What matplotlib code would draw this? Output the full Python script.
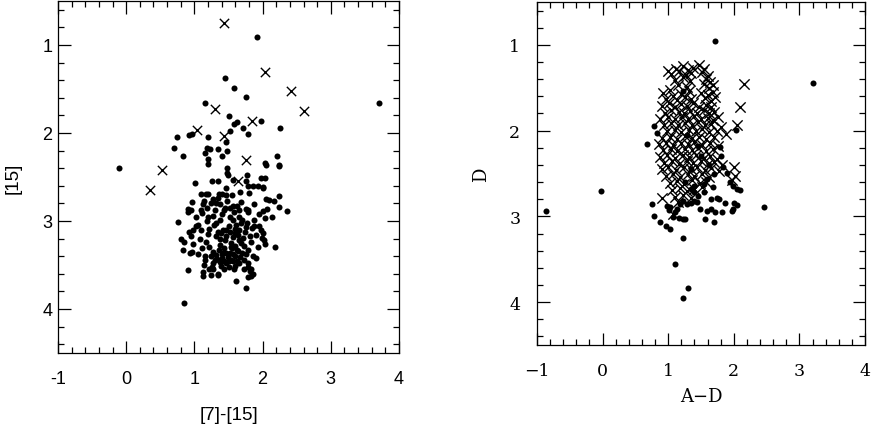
import matplotlib
matplotlib.use("Agg")
import matplotlib.pyplot as plt
from matplotlib.ticker import MultipleLocator

# ---------------- Left panel data: [7]-[15] vs [15] ----------------
left_dot_x = [1.92, 3.71, -0.11, 0.85, 1.45, 1.58, 1.75, 1.16, 1.51, 1.63, 1.58, 1.97, 1.71, 1.52,
              1.79, 2.25, 0.74, 0.92, 0.97, 1.20, 1.47, 0.70, 1.18, 1.23, 1.34, 1.48, 1.15, 1.20,
              1.20, 1.41, 0.83, 2.21, 2.04, 2.05, 2.24, 2.24, 1.48, 1.48, 1.49, 1.77, 1.01, 1.26,
              1.34, 1.56, 1.76, 1.79, 1.86, 1.93, 2.00, 1.97, 2.03, 2.01, 1.67, 1.80, 1.10, 1.17,
              1.20, 1.36, 1.40, 1.47, 1.55, 2.24, 2.05, 2.09, 2.17, 0.97, 1.14, 1.13, 1.24, 1.27,
              1.32, 1.37, 1.45, 1.52, 1.56, 1.62, 1.76, 1.78, 1.79, 1.87, 2.01, 2.07, 2.24, 2.36,
              0.91, 0.95, 0.90, 1.09, 1.11, 1.02, 1.20, 1.27, 1.38, 1.52, 1.56, 1.66, 1.70, 1.77,
              0.76, 1.88, 2.03, 2.14, 0.98, 1.03, 0.92, 0.95, 1.10, 1.22, 1.20, 1.35, 1.42, 1.47,
              1.52, 1.59, 1.66, 1.76, 1.85, 1.88, 1.95, 1.97, 2.01, 0.81, 0.85, 1.08, 1.17, 1.32,
              1.37, 1.47, 1.56, 1.64, 1.71, 1.82, 1.91, 1.99, 2.02, 0.84, 0.96, 0.98, 1.11, 1.22,
              1.27, 1.37, 1.43, 1.53, 1.60, 1.73, 1.79, 1.93, 2.04, 2.18, 0.94, 1.15, 1.32, 1.40,
              1.49, 1.59, 1.67, 1.76, 1.86, 1.90, 1.16, 1.30, 1.37, 1.47, 1.57, 1.66, 1.79, 1.22,
              1.27, 1.39, 1.50, 1.60, 1.79, 1.83, 0.91, 1.13, 1.25, 1.35, 1.44, 1.58, 1.81, 1.86,
              1.13, 1.35, 1.79, 1.83, 1.61, 1.75, 1.42, 1.52, 1.62, 1.45, 1.29, 1.61, 1.40, 1.30,
              1.18, 1.68, 1.46, 1.65, 1.54, 1.44, 1.70, 1.28, 1.05, 1.66,
              1.33, 1.41, 1.50, 1.57, 1.63, 1.72, 1.24, 1.36, 1.46, 1.55, 1.69, 1.83, 1.14, 1.26,
              1.39, 1.51, 1.60, 1.74, 1.34, 1.48, 1.58, 1.68, 1.94, 1.06, 1.19, 1.31, 1.43, 1.53,
              1.64, 1.73]
left_dot_y = [0.91, 1.66, 2.40, 3.93, 1.37, 1.49, 1.59, 1.66, 1.81, 1.88, 1.90, 1.86, 1.94, 1.98,
              2.01, 1.94, 2.04, 2.02, 2.01, 2.04, 2.10, 2.17, 2.17, 2.18, 2.18, 2.20, 2.23, 2.29,
              2.35, 2.26, 2.26, 2.26, 2.34, 2.36, 2.36, 2.38, 2.40, 2.46, 2.48, 2.48, 2.57, 2.55,
              2.54, 2.53, 2.55, 2.60, 2.60, 2.60, 2.61, 2.51, 2.51, 2.63, 2.67, 2.68, 2.69, 2.69,
              2.69, 2.69, 2.69, 2.71, 2.71, 2.72, 2.75, 2.76, 2.77, 2.78, 2.77, 2.81, 2.79, 2.75,
              2.79, 2.81, 2.85, 2.85, 2.83, 2.83, 2.86, 2.88, 2.90, 2.81, 2.89, 2.86, 2.84, 2.89,
              2.86, 2.87, 2.90, 2.88, 2.91, 2.95, 2.96, 2.94, 2.99, 2.96, 2.99, 2.95, 2.99, 3.02,
              3.01, 2.99, 2.97, 2.96, 3.10, 3.06, 3.13, 3.17, 3.10, 3.09, 3.15, 3.12, 3.10, 3.10,
              3.13, 3.09, 3.10, 3.07, 3.08, 3.06, 3.06, 3.10, 3.14, 3.21, 3.24, 3.21, 3.24, 3.17,
              3.20, 3.17, 3.18, 3.16, 3.19, 3.17, 3.16, 3.19, 3.22, 3.33, 3.35, 3.26, 3.31, 3.29,
              3.35, 3.27, 3.31, 3.29, 3.28, 3.28, 3.33, 3.29, 3.26, 3.30, 3.36, 3.40, 3.39, 3.42,
              3.41, 3.40, 3.41, 3.38, 3.40, 3.42, 3.44, 3.44, 3.47, 3.48, 3.46, 3.48, 3.48, 3.55,
              3.55, 3.51, 3.52, 3.51, 3.52, 3.54, 3.56, 3.58, 3.61, 3.60, 3.55, 3.55, 3.57, 3.60,
              3.62, 3.61, 3.64, 3.63, 3.68, 3.76, 3.36, 3.36, 3.33, 3.22, 3.05, 3.04, 2.92, 2.88,
              2.85, 2.78, 2.63, 3.22, 3.44, 3.46, 3.36, 3.48, 3.38, 2.88,
              3.43, 3.38, 3.45, 3.37, 3.45, 3.44, 3.40, 3.33, 3.36, 3.31, 3.25, 3.24, 3.50, 3.52,
              3.14, 3.06, 3.14, 3.12, 2.74, 2.77, 2.90, 3.02, 2.92, 3.04, 3.00, 3.02, 2.88, 3.25,
              3.34, 3.55]
left_cross_x = [1.43, 2.03, 2.42, 2.60, 1.30, 1.84, 1.04, 1.43, 1.75, 0.53, 0.35, 1.64]
left_cross_y = [0.755, 1.31, 1.52, 1.75, 1.73, 1.86, 1.97, 2.03, 2.31, 2.42, 2.65, 2.54]

# ---------------- Right panel data: A-D vs D ----------------
right_dot_x = [1.72, 3.21, -0.86, -0.02, 2.46, 1.23, 1.10, 1.30, 1.23, 0.75, 0.78, 0.88, 0.96,
               1.03, 0.68, 0.78, 0.83, 1.22, 1.69, 1.79, 1.81, 1.84, 1.89, 1.94, 1.99, 2.05,
               2.09, 2.03, 2.01, 2.05, 1.99, 1.97, 1.86, 1.78, 1.74, 1.82, 1.72, 1.66, 1.65,
               1.59, 1.56, 1.70, 1.49, 1.44, 1.39, 1.34, 1.28, 1.23, 1.18, 1.14, 1.11, 1.16,
               1.22, 1.26, 1.03, 0.98, 1.01, 1.07, 1.39, 1.46, 1.54, 1.34, 1.39, 1.59, 1.50,
               1.35, 1.62, 1.25, 1.55, 1.45, 1.70, 1.28]
right_dot_y = [0.95, 1.45, 2.94, 2.70, 2.89, 3.25, 3.56, 3.84, 3.95, 2.85, 2.99, 3.07, 3.11,
               3.15, 2.16, 1.95, 2.03, 1.54, 2.66, 2.19, 2.30, 2.43, 2.49, 2.60, 2.64, 2.68,
               2.69, 1.99, 2.84, 2.87, 2.91, 2.94, 2.84, 2.80, 2.79, 2.95, 2.95, 2.80, 2.91,
               2.94, 3.03, 3.06, 2.91, 2.83, 2.82, 2.84, 2.85, 2.82, 2.85, 2.91, 2.95, 3.02,
               3.03, 3.03, 2.89, 2.88, 2.93, 3.01, 2.72, 2.76, 2.71, 2.68, 2.64, 2.56, 2.30,
               2.45, 2.40, 2.60, 2.62, 2.18, 2.50, 2.05]
right_cross_x = [1.00, 1.12, 1.22, 1.30, 1.38, 1.47, 1.55,
                 1.05, 1.17, 1.27, 1.35, 1.52, 1.60,
                 1.10, 1.23, 1.33, 1.57, 1.64,
                 1.15, 1.28, 1.54, 1.62, 1.68,
                 0.92, 1.02, 1.20, 1.31, 1.50, 1.60, 1.69,
                 0.97, 1.07, 1.14, 1.25, 1.35, 1.56, 1.65, 1.71,
                 0.90, 1.01, 1.10, 1.19, 1.28, 1.38, 1.47, 1.58, 1.66,
                 0.95, 1.05, 1.16, 1.24, 1.33, 1.44, 1.54, 1.62, 1.70,
                 0.88, 1.00, 1.10, 1.21, 1.30, 1.40, 1.50, 1.60, 1.68, 1.76,
                 0.94, 1.04, 1.15, 1.26, 1.36, 1.46, 1.56, 1.66, 1.80,
                 0.98, 1.10, 1.20, 1.32, 1.42, 1.52, 1.62, 1.74, 1.88, 2.05, 2.10, 2.16,
                 0.90, 1.02, 1.14, 1.25, 1.36, 1.47, 1.58, 1.70,
                 0.86, 0.96, 1.08, 1.20, 1.30, 1.40, 1.52, 1.64, 1.76,
                 0.92, 1.04, 1.14, 1.26, 1.36, 1.46, 1.58, 1.68,
                 0.88, 0.98, 1.10, 1.22, 1.32, 1.42, 1.54, 1.64, 1.74,
                 0.94, 1.06, 1.16, 1.28, 1.38, 1.50, 1.60, 1.70, 1.82,
                 0.90, 1.00, 1.12, 1.24, 1.34, 1.44, 1.56, 1.66, 1.78, 2.00,
                 0.96, 1.08, 1.18, 1.30, 1.40, 1.52, 1.62, 2.02,
                 1.02, 1.14, 1.24, 1.36, 1.48, 1.58, 1.97,
                 1.06, 1.18, 1.28, 1.40, 1.52,
                 1.10, 1.22, 1.34,
                 0.90, 1.15, 1.07]
right_cross_y = [1.30, 1.28, 1.25, 1.29, 1.27, 1.24, 1.28,
                 1.34, 1.31, 1.35, 1.33, 1.32, 1.36,
                 1.41, 1.38, 1.42, 1.40, 1.43,
                 1.47, 1.49, 1.46, 1.50, 1.47,
                 1.56, 1.53, 1.57, 1.54, 1.56, 1.58, 1.55,
                 1.63, 1.60, 1.64, 1.61, 1.63, 1.62, 1.65, 1.61,
                 1.71, 1.68, 1.72, 1.69, 1.71, 1.68, 1.72, 1.70, 1.73,
                 1.79, 1.76, 1.78, 1.80, 1.77, 1.79, 1.76, 1.80, 1.78,
                 1.86, 1.84, 1.87, 1.84, 1.86, 1.83, 1.87, 1.85, 1.88, 1.84,
                 1.93, 1.91, 1.94, 1.91, 1.93, 1.90, 1.94, 1.92, 1.96,
                 2.01, 1.99, 2.02, 1.99, 2.01, 1.98, 2.02, 2.00, 2.04, 1.94, 1.72, 1.46,
                 2.09, 2.07, 2.10, 2.06, 2.09, 2.07, 2.10, 2.08,
                 2.16, 2.14, 2.17, 2.14, 2.16, 2.13, 2.17, 2.15, 2.18,
                 2.23, 2.21, 2.24, 2.21, 2.23, 2.20, 2.24, 2.22,
                 2.31, 2.29, 2.32, 2.28, 2.31, 2.29, 2.32, 2.30, 2.33,
                 2.38, 2.36, 2.39, 2.36, 2.38, 2.35, 2.39, 2.37, 2.40,
                 2.45, 2.43, 2.46, 2.43, 2.45, 2.42, 2.46, 2.44, 2.47, 2.43,
                 2.53, 2.51, 2.54, 2.50, 2.53, 2.51, 2.54, 2.53,
                 2.61, 2.59, 2.62, 2.58, 2.61, 2.60, 2.58,
                 2.69, 2.67, 2.70, 2.68, 2.66,
                 2.77, 2.75, 2.78,
                 2.79, 2.83, 2.97]

left_xticks = [-1, 0, 1, 2, 3, 4]
left_yticks = [1, 2, 3, 4]
right_xticks = [-1, 0, 1, 2, 3, 4]
right_yticks = [1, 2, 3, 4]
right_xticklabels = ["\u22121", "0", "1", "2", "3", "4"]

fig = plt.figure(figsize=(8.71, 4.27), dpi=100)
axL = fig.add_axes([58 / 871, 1 - 354 / 427, 341 / 871, 352 / 427])
axR = fig.add_axes([537 / 871, 1 - 346 / 427, 328 / 871, 343 / 427])


def style(ax, pad, font, size):
    ax.set_xlim(-1, 4)
    ax.set_ylim(4.5, 0.5)
    ax.xaxis.set_minor_locator(MultipleLocator(0.2))
    ax.yaxis.set_minor_locator(MultipleLocator(0.2))
    ax.tick_params(which="both", direction="in", top=True, right=True,
                   width=0.9, colors="black")
    ax.tick_params(which="major", length=9, labelsize=size, pad=pad)
    ax.tick_params(which="minor", length=4.5)
    for s in ax.spines.values():
        s.set_linewidth(0.9)
    for lab in ax.get_xticklabels() + ax.get_yticklabels():
        lab.set_family(font)


# Left panel
axL.scatter(left_dot_x, left_dot_y, s=19, c="black", marker="o", linewidths=0)
axL.scatter(left_cross_x, left_cross_y, s=45, c="black", marker="x", linewidths=1.0)
axL.set_xticks(left_xticks)
axL.set_yticks(left_yticks)
axL.set_xticklabels([str(t) for t in left_xticks])
axL.set_yticklabels([str(t) for t in left_yticks])
style(axL, 12, "Liberation Sans", 13)
axL.tick_params(axis="y", which="major", pad=4)
axL.set_xlabel("[7]-[15]", fontsize=13.5, family="Liberation Sans", labelpad=14)
axL.set_ylabel("[15]", fontsize=13.5, family="Liberation Sans", labelpad=15)

# Right panel
axR.scatter(right_dot_x, right_dot_y, s=19, c="black", marker="o", linewidths=0)
axR.scatter(right_cross_x, right_cross_y, s=55, c="black", marker="x", linewidths=1.0)
axR.set_xticks(right_xticks)
axR.set_yticks(right_yticks)
axR.set_xticklabels(right_xticklabels)
axR.set_yticklabels([str(t) for t in right_yticks])
style(axR, 12, "DejaVu Serif", 12.5)
axR.set_xlabel("A\u2212D", fontsize=13, family="DejaVu Serif", labelpad=6)
axR.set_ylabel("D", fontsize=13, family="DejaVu Serif", labelpad=14)

fig.savefig("out.png", dpi=100)
